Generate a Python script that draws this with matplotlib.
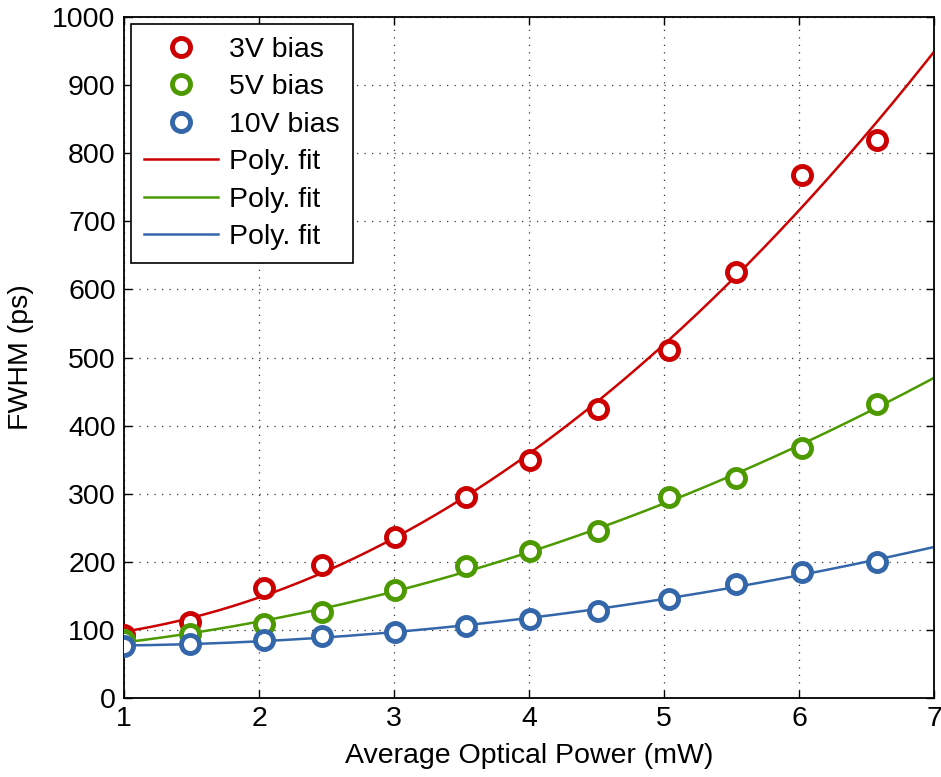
import numpy as np
import matplotlib
matplotlib.use("Agg")
import matplotlib.pyplot as plt

plt.rcParams['font.family'] = ['Liberation Sans', 'DejaVu Sans']

power = [1.0, 1.49, 2.04, 2.47, 3.01, 3.53, 4.01, 4.51, 5.04, 5.53, 6.02, 6.58]
fwhm_3v = [93, 112, 161, 196, 236, 295, 349, 424, 511, 626, 768, 819]
fwhm_5v = [85, 94, 109, 126, 159, 194, 216, 245, 295, 323, 367, 432]
fwhm_10v = [76, 79, 85, 91, 97, 106, 116, 128, 145, 167, 185, 200]

c_red = '#CC0000'
c_green = '#4C9A00'
c_blue = '#3466AA'

fig = plt.figure(figsize=(9.41, 7.77), dpi=100)
ax = fig.add_axes([0.1318, 0.1017, 0.8608, 0.8763])

xf = np.linspace(1, 7, 300)
series = [(fwhm_3v, c_red, '3V bias'), (fwhm_5v, c_green, '5V bias'), (fwhm_10v, c_blue, '10V bias')]
for y, c, lab in series:
    ax.plot(power, y, 'o', mfc='white', mec=c, mew=3.5, ms=13, label=lab, zorder=3)
for y, c, lab in series:
    p = np.polyfit(power, y, 3)
    ax.plot(xf, np.polyval(p, xf), '-', color=c, lw=1.8, label='Poly. fit', zorder=2)

fs = 20.5
ax.set_xlim(1, 7)
ax.set_ylim(0, 1000)
ax.set_xticks(range(1, 8))
ax.set_yticks(range(0, 1001, 100))
ax.grid(True, linestyle=(0, (1, 5)), color='#333333', lw=0.9)
ax.tick_params(direction='in', right=True, top=True, labelsize=fs, length=6, width=1, pad=6)
for s in ax.spines.values():
    s.set_linewidth(1.3)
ax.set_xlabel('Average Optical Power (mW)', fontsize=fs, labelpad=8)
ax.set_ylabel('FWHM (ps)', fontsize=fs, labelpad=13)

leg = ax.legend(loc='upper left', fontsize=fs, frameon=True, fancybox=False,
                edgecolor='black', framealpha=1, handlelength=2.6, handletextpad=0.4,
                borderpad=0.45, labelspacing=0.4, borderaxespad=0.25)
leg.get_frame().set_linewidth(1.2)

fig.savefig('out.png', dpi=100)
